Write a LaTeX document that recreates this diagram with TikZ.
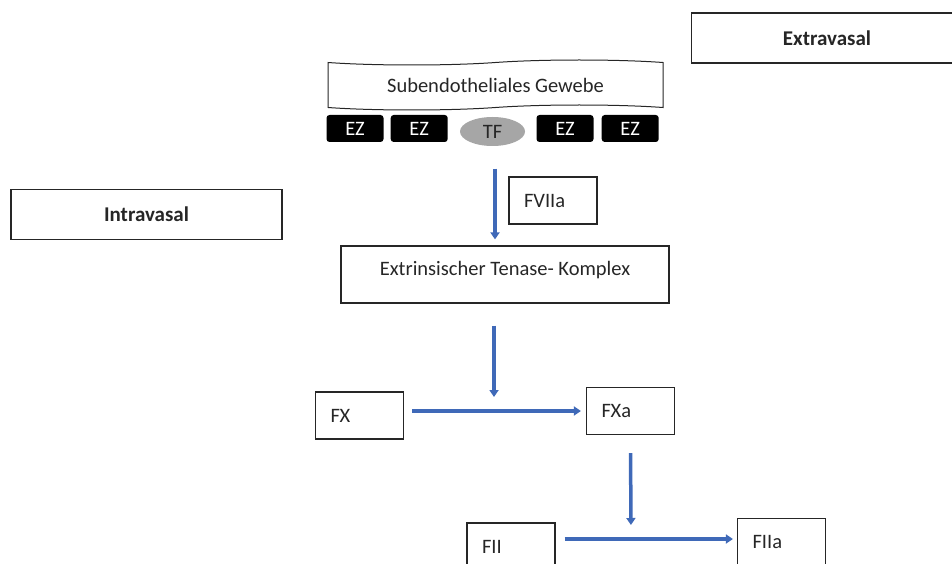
\documentclass[tikz,border=0pt]{standalone}
\usepackage{fontspec}
\setmainfont{Carlito}
\usetikzlibrary{arrows.meta}
\usetikzlibrary{positioning}
\usetikzlibrary{shapes,shapes.symbols}
\definecolor{flowblue}{HTML}{3F69B8}
\definecolor{tfgray}{HTML}{A6A6A6}
\definecolor{ink}{HTML}{262626}

\begin{document}
\begin{tikzpicture}[x=1pt,y=-1pt,font=\fontsize{20.5}{24}\selectfont,text=ink,line width=1.2pt]
\tikzstyle{region} = [draw=black!85, rectangle, font=\fontsize{21}{25}\selectfont\bfseries, minimum width=271pt, minimum height=50pt]
\tikzstyle{tissue} = [draw=black!85, tape, tape bend height=5pt, minimum width=335pt, minimum height=50pt, line width=1pt]
\tikzstyle{cell} = [rectangle, rounded corners=3pt, fill=black, text=white, minimum width=57pt, minimum height=27pt, inner sep=0pt]
\tikzstyle{factor} = [draw=black!85, rectangle, align=left, text width=58pt, inner xsep=15pt, minimum height=47pt]
\tikzstyle{complex} = [draw=black!85, rectangle, minimum width=328pt, minimum height=57pt, text depth=12pt]
\tikzstyle{flow} = [draw=flowblue, line width=3.5pt, -{Triangle[width=9pt,length=7pt]}]

\useasboundingbox (0,0) rectangle (952,564);

\node[region] (EXTRA) at (827,38) {Extravasal};
\node[region] (INTRA) at (146.5,214.5) {Intravasal};

\node[tissue] (GEWEBE) at (495.5,85) {Subendotheliales Gewebe};

\node[cell] (EZA) at (355,128.5) {EZ};
\node[cell] (EZB) [right=6pt of EZA] {EZ};
\node[ellipse, fill=tfgray, minimum width=65pt, minimum height=29pt, inner sep=0pt, text depth=0pt] (TF) at (492.5,131.5) {TF};
\node[cell] (EZC) at (565,128.5) {EZ};
\node[cell] (EZD) [right=7pt of EZC] {EZ};

\node[factor] (FVIIA) at (553,200.5) {FVIIa};
\node[complex] (TENASE) at (505,274.5) {Extrinsischer Tenase- Komplex};

\node[factor] (FX) at (359.5,415.5) {FX};
\node[factor] (FXA) at (630.5,411) {FXa};

\node[factor] (FII) at (511,546.5) {FII};
\node[factor] (FIIA) at (781.5,542) {FIIa};

\coordinate (JOINX) at (494,411);
\coordinate (JOINII) at (631,539);

\path[flow, shorten <=22pt, shorten >=6pt] ([xshift=2.5pt]TF.south) -- ([xshift=2.5pt]TF.south |- TENASE.north);
\path[flow, shorten <=22pt, shorten >=14pt] (JOINX |- TENASE.south) -- (JOINX);
\path[flow, shorten <=8pt, shorten >=5pt] (JOINX -| FX.east) -- (FXA.west);
\path[flow, shorten <=18pt, shorten >=14pt] (FXA.south) -- (JOINII);
\path[flow, shorten <=9pt, shorten >=4pt] (JOINII -| FII.east) -- (JOINII -| FIIA.west);
\end{tikzpicture}
\end{document}
